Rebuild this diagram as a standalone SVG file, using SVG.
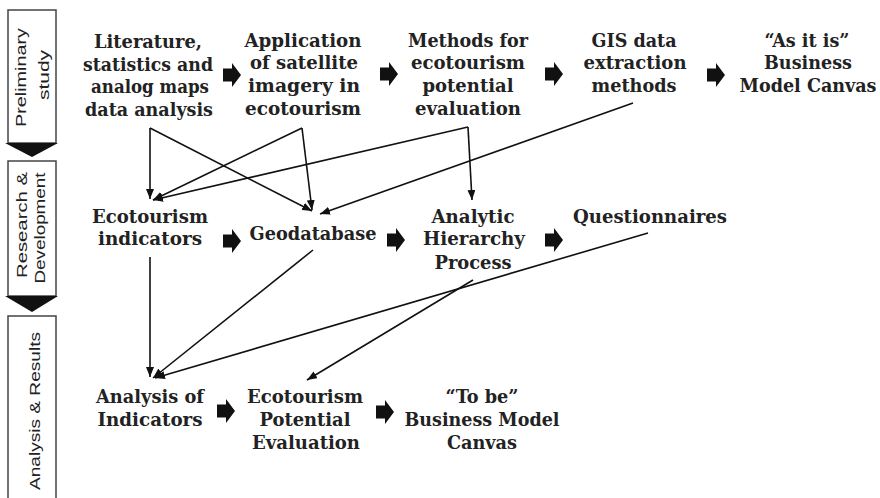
<svg xmlns="http://www.w3.org/2000/svg" xmlns:xlink="http://www.w3.org/1999/xlink" width="880" height="498" viewBox="0 0 880 498">
<style>
.t{font-family:"DejaVu Serif","Liberation Serif",serif;font-weight:bold;font-size:18px;fill:#222;text-anchor:middle;}
.s{font-family:"Liberation Sans",Arial,sans-serif;font-size:14px;fill:#222;text-anchor:middle;}
.box{fill:#fff;stroke:#444;stroke-width:1.5;}
.tri{fill:#111;}
.c{stroke:#111;stroke-width:1.6;fill:none;marker-end:url(#ah);}
.blk{fill:#111;}
</style>
<defs>
<marker id="ah" markerUnits="userSpaceOnUse" markerWidth="10" markerHeight="8" refX="10" refY="4" orient="auto">
<path d="M0,0 L10,4 L0,8 z" fill="#111"/>
</marker>
<path id="blk" d="M0,-6.5 H9 V-12 L18,0 L9,12 V6.5 H0 Z"/>
</defs>
<rect width="880" height="498" fill="#fff"/>

<g id="phase1">
<rect class="box" x="8" y="10" width="48" height="133"/>
<polygon class="tri" points="5,143 58,143 32,157"/>
<text class="s" transform="translate(25.5,77.5) rotate(-90)" textLength="99" lengthAdjust="spacingAndGlyphs">Preliminary</text>
<text class="s" transform="translate(49,75) rotate(-90)" textLength="50" lengthAdjust="spacingAndGlyphs">study</text>
</g>
<g id="phase2">
<rect class="box" x="8" y="161" width="48" height="135"/>
<polygon class="tri" points="5,296 58,296 32,312"/>
<text class="s" transform="translate(27,225) rotate(-90)" textLength="106" lengthAdjust="spacingAndGlyphs">Research &amp;</text>
<text class="s" transform="translate(45,228) rotate(-90)" textLength="111" lengthAdjust="spacingAndGlyphs">Development</text>
</g>
<g id="phase3">
<rect class="box" x="8" y="316" width="48" height="190"/>
<text class="s" transform="translate(39.5,411) rotate(-90)" textLength="158" lengthAdjust="spacingAndGlyphs">Analysis &amp; Results</text>
</g>

<g id="n1">
<text class="t" x="148" y="48" textLength="108" lengthAdjust="spacingAndGlyphs">Literature,</text>
<text class="t" x="148" y="71" textLength="130" lengthAdjust="spacingAndGlyphs">statistics and</text>
<text class="t" x="150" y="93" textLength="118" lengthAdjust="spacingAndGlyphs">analog maps</text>
<text class="t" x="149" y="116" textLength="128" lengthAdjust="spacingAndGlyphs">data analysis</text>
</g>
<g id="n2">
<text class="t" x="303" y="47" textLength="117" lengthAdjust="spacingAndGlyphs">Application</text>
<text class="t" x="304" y="69" textLength="108" lengthAdjust="spacingAndGlyphs">of satellite</text>
<text class="t" x="304" y="92" textLength="112" lengthAdjust="spacingAndGlyphs">imagery in</text>
<text class="t" x="303" y="115" textLength="116" lengthAdjust="spacingAndGlyphs">ecotourism</text>
</g>
<g id="n3">
<text class="t" x="468" y="47" textLength="120" lengthAdjust="spacingAndGlyphs">Methods for</text>
<text class="t" x="468" y="69" textLength="114" lengthAdjust="spacingAndGlyphs">ecotourism</text>
<text class="t" x="468" y="92" textLength="91" lengthAdjust="spacingAndGlyphs">potential</text>
<text class="t" x="468" y="115" textLength="106" lengthAdjust="spacingAndGlyphs">evaluation</text>
</g>
<g id="n4">
<text class="t" x="634" y="47" textLength="85" lengthAdjust="spacingAndGlyphs">GIS data</text>
<text class="t" x="635" y="69" textLength="103" lengthAdjust="spacingAndGlyphs">extraction</text>
<text class="t" x="634" y="92" textLength="85" lengthAdjust="spacingAndGlyphs">methods</text>
</g>
<g id="n5">
<text class="t" x="807" y="47" textLength="85" lengthAdjust="spacingAndGlyphs">“As it is”</text>
<text class="t" x="808" y="69" textLength="88" lengthAdjust="spacingAndGlyphs">Business</text>
<text class="t" x="808" y="92" textLength="137" lengthAdjust="spacingAndGlyphs">Model Canvas</text>
</g>
<g id="n6">
<text class="t" x="150" y="223" textLength="116" lengthAdjust="spacingAndGlyphs">Ecotourism</text>
<text class="t" x="150" y="245" textLength="104" lengthAdjust="spacingAndGlyphs">indicators</text>
</g>
<g id="n7">
<text class="t" x="313" y="240" textLength="127" lengthAdjust="spacingAndGlyphs">Geodatabase</text>
</g>
<g id="n8">
<text class="t" x="473" y="223" textLength="83" lengthAdjust="spacingAndGlyphs">Analytic</text>
<text class="t" x="474" y="245" textLength="102" lengthAdjust="spacingAndGlyphs">Hierarchy</text>
<text class="t" x="473" y="269" textLength="77" lengthAdjust="spacingAndGlyphs">Process</text>
</g>
<g id="n9">
<text class="t" x="650" y="223" textLength="154" lengthAdjust="spacingAndGlyphs">Questionnaires</text>
</g>
<g id="n10">
<text class="t" x="150" y="403" textLength="108" lengthAdjust="spacingAndGlyphs">Analysis of</text>
<text class="t" x="150" y="426" textLength="105" lengthAdjust="spacingAndGlyphs">Indicators</text>
</g>
<g id="n11">
<text class="t" x="305" y="403" textLength="116" lengthAdjust="spacingAndGlyphs">Ecotourism</text>
<text class="t" x="305" y="426" textLength="91" lengthAdjust="spacingAndGlyphs">Potential</text>
<text class="t" x="306" y="449" textLength="108" lengthAdjust="spacingAndGlyphs">Evaluation</text>
</g>
<g id="n12">
<text class="t" x="482" y="403" textLength="73" lengthAdjust="spacingAndGlyphs">“To be”</text>
<text class="t" x="482" y="426" textLength="155" lengthAdjust="spacingAndGlyphs">Business Model</text>
<text class="t" x="482" y="449" textLength="70" lengthAdjust="spacingAndGlyphs">Canvas</text>
</g>

<g id="connectors">
<g class="blk">
<use xlink:href="#blk" href="#blk" x="223" y="75"/>
<use xlink:href="#blk" href="#blk" x="380" y="74"/>
<use xlink:href="#blk" href="#blk" x="545" y="74"/>
<use xlink:href="#blk" href="#blk" x="707" y="75"/>
<use xlink:href="#blk" href="#blk" x="223" y="241"/>
<use xlink:href="#blk" href="#blk" x="387" y="240"/>
<use xlink:href="#blk" href="#blk" x="545" y="240"/>
<use xlink:href="#blk" href="#blk" x="217" y="411"/>
<use xlink:href="#blk" href="#blk" x="376" y="412"/>
</g>
<line class="c" x1="150" y1="128" x2="150" y2="199"/>
<line class="c" x1="150" y1="128" x2="312" y2="211"/>
<line class="c" x1="302" y1="128" x2="153" y2="200"/>
<line class="c" x1="302" y1="128" x2="312" y2="210"/>
<line class="c" x1="468" y1="127" x2="153" y2="200"/>
<line class="c" x1="468" y1="127" x2="472" y2="200"/>
<line class="c" x1="633" y1="103" x2="320" y2="214"/>
<line class="c" x1="150" y1="257" x2="150" y2="377"/>
<line class="c" x1="313" y1="250" x2="153" y2="378"/>
<line class="c" x1="648" y1="233" x2="155" y2="378"/>
<line class="c" x1="473" y1="280" x2="307" y2="380"/>
</g>
</svg>
